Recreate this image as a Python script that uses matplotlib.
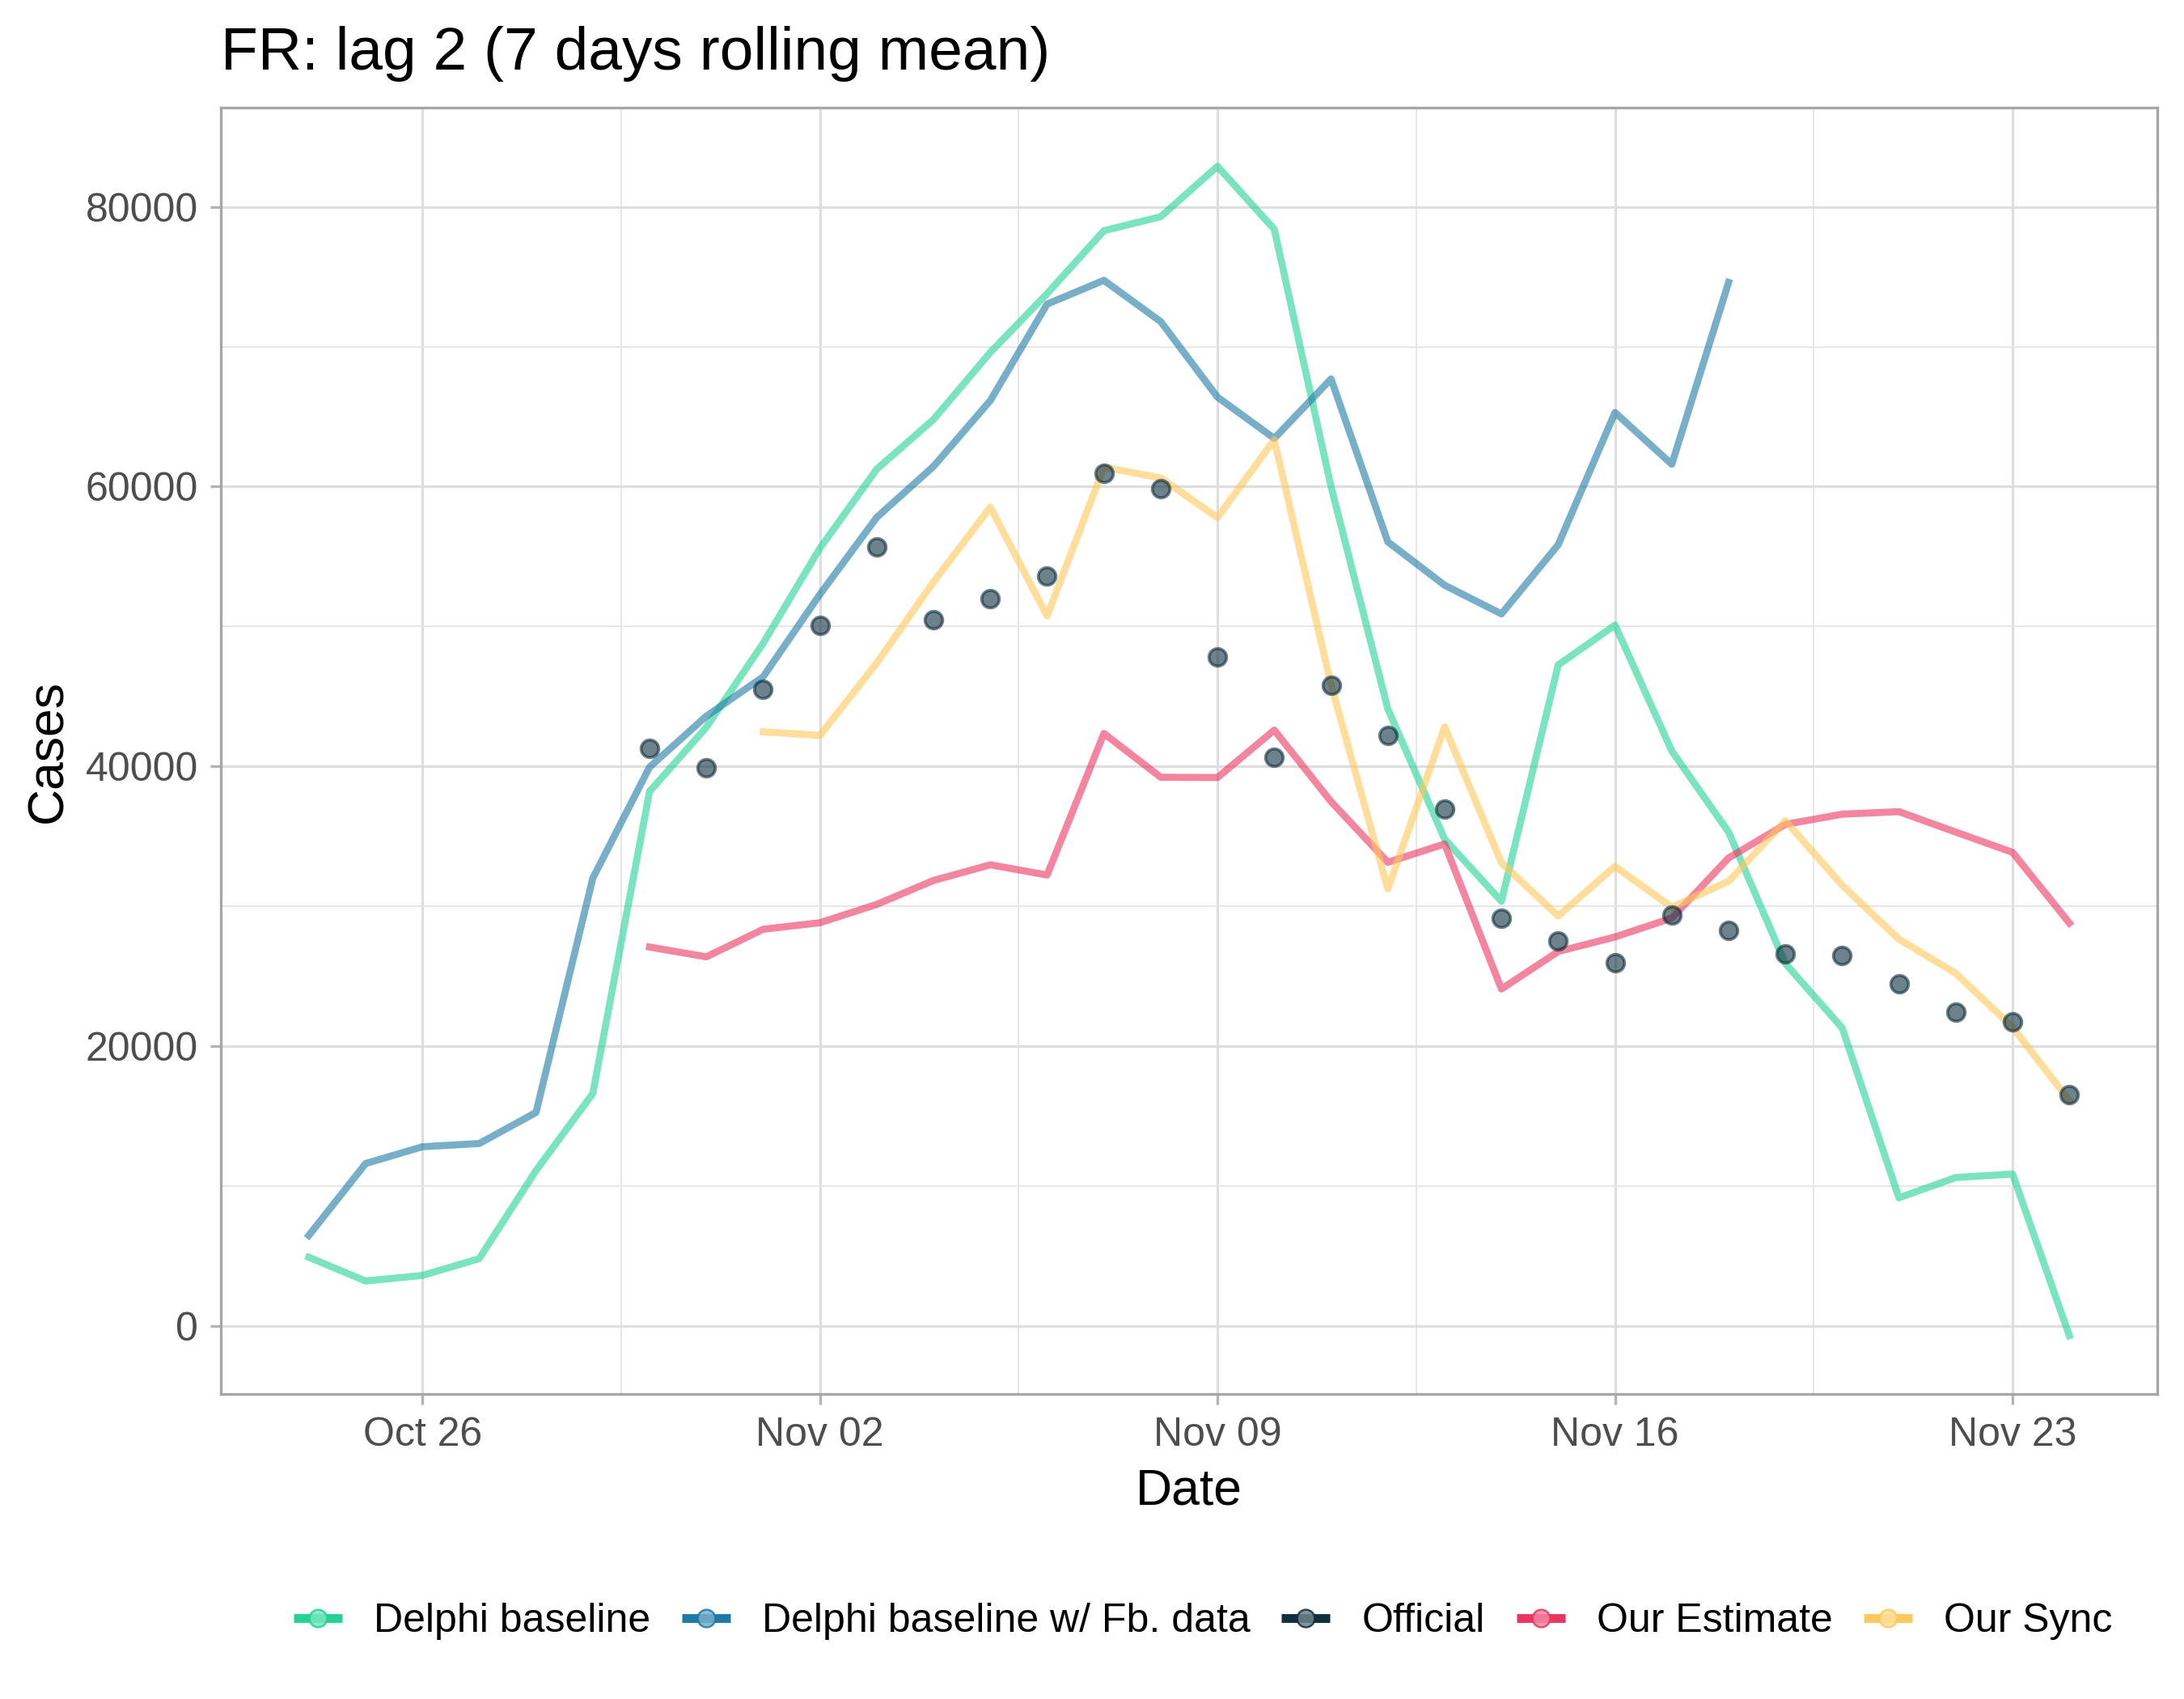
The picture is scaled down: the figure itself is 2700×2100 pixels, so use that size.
import numpy as np
import pandas as pd
import matplotlib
matplotlib.use("Agg")
import matplotlib.pyplot as plt
import matplotlib.dates as mdates
from matplotlib.lines import Line2D
from matplotlib.legend_handler import HandlerTuple
from matplotlib.colors import to_rgb

plt.rcParams["font.family"] = ["Liberation Sans", "DejaVu Sans"]

nan = np.nan
dates = pd.date_range("2020-10-24", "2020-11-24", freq="D")

delphi = [4900, 3200, 3600, 4800, 11100, 16600, 38200, 42800, 48800, 55600,
          61250, 64800, 69600, 73800, 78300, 79300, 82900, 78400, 60000, 44100,
          34800, 30350, 47250, 50100, 41100, 35300, 25900, 21300, 9150, 10600,
          10850, -700]
delphi_fb = [6460, 11600, 12800, 13030, 15250, 32000, 39950, 43590, 46400, 52300,
             57800, 61450, 66150, 73050, 74750, 71800, 66400, 63450, 67700, 56050,
             52950, 50900, 55850, 65300, 61600, 74600] + [nan] * 6
official = [nan] * 6 + [41300, 39870, 45500, 50100, 55680, 50480, 52000, 53580,
                        60960, 59880, 47840, 40660, 45770, 42210, 36950, 29140,
                        27510, 25960, 29360, 28280, 26570, 26460, 24450, 22440,
                        21710, 16520]
estimate = [nan] * 6 + [27080, 26380, 28350, 28820, 30130, 31840, 32960, 32230,
                        42350, 39220, 39200, 42590, 37480, 33140, 34450, 24080,
                        26760, 27800, 29150, 33450, 35850, 36580, 36760, 35300,
                        33850, 28800]
sync = [nan] * 8 + [42470, 42210, 47390, 53190, 58530, 50750, 61390, 60620,
                    57790, 63350, 45840, 31230, 42820, 33100, 29300, 32850,
                    29920, 31780, 36100, 31500, 27640, 25200, 21350, 16100]

names = ["Delphi baseline", "Delphi baseline w/ Fb. data", "Official",
         "Our Estimate", "Our Sync"]
colors = ["#22D394", "#1C7AA6", "#0E2F3E", "#EB3462", "#FFC85A"]

fig = plt.figure(figsize=(9, 7), dpi=300)
ax = fig.add_axes([0.1011, 0.1795, 0.8867, 0.757])

lw = 2.1
ax.plot(dates, delphi, color=colors[0], alpha=0.6, lw=lw, zorder=3)
ax.plot(dates, delphi_fb, color=colors[1], alpha=0.6, lw=lw, zorder=3)
ax.plot(dates, estimate, color=colors[3], alpha=0.6, lw=lw, zorder=3)
ax.plot(dates, sync, color=colors[4], alpha=0.6, lw=lw, zorder=3)
ax.plot(dates, official, ls="none", marker="o", ms=5.2, color=colors[2],
        mec=colors[2], mew=0.9, alpha=0.6, zorder=4)

ax.xaxis.set_major_locator(mdates.WeekdayLocator(byweekday=mdates.MO))
ax.xaxis.set_major_formatter(mdates.DateFormatter("%b %d"))
majors = ax.get_xticks()
ax.set_xticks(majors[:-1] + 3.5, minor=True)
ax.yaxis.set_major_locator(plt.MultipleLocator(20000))
ax.yaxis.set_minor_locator(plt.MultipleLocator(10000))
ax.yaxis.set_major_formatter(plt.FuncFormatter(lambda v, p: "%d" % v))

# ggplot-like 5% expansion
xn = mdates.date2num(dates)
dx = (xn[-1] - xn[0]) * 0.05
ax.set_xlim(xn[0] - dx, xn[-1] + dx)
allv = np.concatenate([delphi, delphi_fb, official, estimate, sync])
vmin, vmax = np.nanmin(allv), np.nanmax(allv)
dy = (vmax - vmin) * 0.05
ax.set_ylim(vmin - dy, vmax + dy)

ax.grid(which="major", color="#DEDEDE", lw=0.75, zorder=0)
ax.grid(which="minor", color="#E6E6E6", lw=0.45, zorder=0)
ax.set_axisbelow(True)
for s in ax.spines.values():
    s.set_color("#A6A6A6")
    s.set_linewidth(0.8)
ax.tick_params(which="major", length=3.2, width=0.8, color="#B3B3B3",
               labelcolor="#4D4D4D", labelsize=12, pad=3.5)
ax.tick_params(which="minor", length=0)

ax.set_xlabel("Date", fontsize=15, color="black", labelpad=4)
ax.set_ylabel("Cases", fontsize=15, color="black", labelpad=4)
fig.text(0.1011, 0.959, "FR: lag 2 (7 days rolling mean)", fontsize=18,
         ha="left", va="baseline", color="black")

handles = []
for c in colors:
    light = tuple(1 - 0.6 * (1 - v) for v in to_rgb(c))
    ln = Line2D([], [], color=c, lw=2.6, solid_capstyle="butt")
    pt = Line2D([], [], ls="none", marker="o", ms=5.2, mfc=light,
                mec=c, mew=0.6, alpha=0.85)
    handles.append((ln, pt))
fig.legend(handles, names, loc="center", bbox_to_anchor=(0.5508, 0.0457),
           ncol=5, frameon=False, fontsize=12, handlelength=1.2,
           handletextpad=0.78, columnspacing=0.78,
           handler_map={tuple: HandlerTuple(ndivide=1)})

fig.savefig("out.png", dpi=300)
